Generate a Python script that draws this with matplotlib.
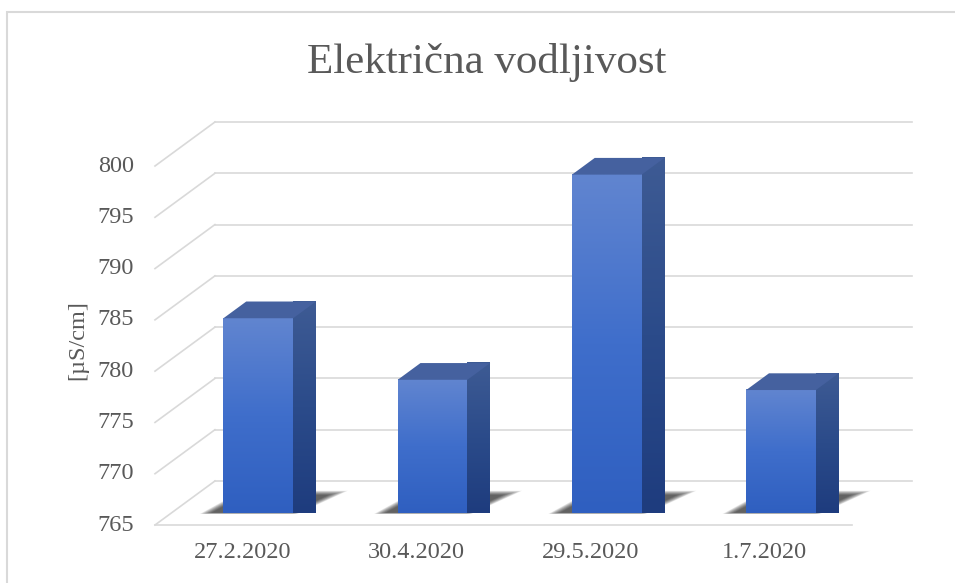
import numpy as np
import matplotlib.pyplot as plt
from matplotlib.patches import Polygon, Rectangle
from matplotlib.colors import LinearSegmentedColormap

# data
dates = ["27.2.2020", "30.4.2020", "29.5.2020", "1.7.2020"]
values = [784, 778, 798, 777]
yticks = [765, 770, 775, 780, 785, 790, 795, 800]
title = "Električna vodljivost"
ylabel = "[µS/cm]"

ymin, ymax = 765, 800
DX, DY = 0.344, 4.29     # full depth offset in data units
f0, f1 = 0.27, 0.65      # bar depth (fraction of floor)
half_w = 0.2

plt.rcParams['font.family'] = ['Liberation Serif', 'DejaVu Serif']
grid_c = '#d9d9d9'
txt_c = '#595959'

fig = plt.figure(figsize=(9.55, 5.83), dpi=100)
W, H = 955, 583
ax = fig.add_axes([155 / W, (H - 525) / H, 697 / W, 359 / H])
ax.set_xlim(-0.5, 3.5)
ax.set_ylim(ymin, ymax)
ax.axis('off')

# chart border
fig.patches.append(Rectangle((7 / W, -0.01), 1.0, (H - 12) / H + 0.01, transform=fig.transFigure,
                             fill=False, edgecolor='#d9d9d9', lw=1.5))

# gridlines: back wall + left wall slants
for v in yticks:
    ax.plot([-0.5 + DX, 3.5 + DX], [v + DY, v + DY], color=grid_c, lw=1.2, clip_on=False, zorder=1)
    ax.plot([-0.5, -0.5 + DX], [v, v + DY], color=grid_c, lw=1.2, clip_on=False, zorder=1)
ax.plot([-0.5, 3.5], [ymin, ymin], color=grid_c, lw=1.2, clip_on=False, zorder=1)

front_cmap = LinearSegmentedColormap.from_list('front', ['#2f5fc0', '#3f6ecb', '#6185d0'])
side_cmap = LinearSegmentedColormap.from_list('side', ['#1e3c7e', '#2b4b8a', '#3e5b94'])
grad = np.linspace(0, 1, 256).reshape(-1, 1)


def floor_pt(x, d):
    # point on the floor: x at the front plane, depth fraction d
    return (x + d * DX, ymin + d * DY)


for i, v in enumerate(values):
    xl = i - half_w
    xr = i + half_w
    # blurred shadow on the floor, leaning right towards the back
    n = 16
    for k in range(n):
        g = 1 - k / (n - 1)   # 1 = widest/faintest layer
        pts = [floor_pt(xl - 0.07 - 0.06 * g, f0 + 0.01 - 0.03 * g),
               floor_pt(xr - 0.02 + 0.05 * g, f0 + 0.01 - 0.03 * g),
               floor_pt(xr + 0.06 + 0.08 * g, f1 + 0.03 + 0.1 * g),
               floor_pt(xl - 0.02 - 0.05 * g, f1 + 0.03 + 0.1 * g)]
        ax.add_patch(Polygon(pts, closed=True, facecolor='black', edgecolor='none',
                             alpha=0.055, clip_on=False, zorder=2))

    xl += f0 * DX
    xr += f0 * DX
    y0 = ymin + f0 * DY
    y1 = v + f0 * DY
    ddx = (f1 - f0) * DX
    ddy = (f1 - f0) * DY
    # front face
    front = Polygon([(xl, y0), (xr, y0), (xr, y1), (xl, y1)], closed=True,
                    facecolor='none', edgecolor='none', clip_on=False, zorder=4)
    ax.add_patch(front)
    im = ax.imshow(grad, cmap=front_cmap, origin='lower', aspect='auto',
                   extent=[xl, xr, y0, y1], zorder=4, clip_on=False)
    im.set_clip_path(front)
    # side face
    side = Polygon([(xr, y0), (xr + ddx, y0 + ddy), (xr + ddx, y1 + ddy), (xr, y1)], closed=True,
                   facecolor='none', edgecolor='none', clip_on=False, zorder=4)
    ax.add_patch(side)
    im2 = ax.imshow(grad, cmap=side_cmap, origin='lower', aspect='auto',
                    extent=[xr, xr + ddx, y0, y1 + ddy], zorder=4, clip_on=False)
    im2.set_clip_path(side)
    # top face
    top = Polygon([(xl, y1), (xr, y1), (xr + ddx, y1 + ddy), (xl + ddx, y1 + ddy)], closed=True,
                  facecolor='#45619f', edgecolor='none', clip_on=False, zorder=5)
    ax.add_patch(top)

ax.set_xlim(-0.5, 3.5)
ax.set_ylim(ymin, ymax)

# tick labels
for v in yticks:
    ax.text(-0.5 - 0.12, v, str(v), ha='right', va='center', fontsize=17.5, color=txt_c, clip_on=False)
for i, d in enumerate(dates):
    ax.text(i, ymin - 2.7, d, ha='center', va='center', fontsize=17.5, color=txt_c, clip_on=False)

fig.text(78 / W, 1 - 340 / H, ylabel, rotation=90, ha='center', va='center', fontsize=17.5, color=txt_c)
fig.text(487 / W, 1 - 62 / H, title, ha='center', va='center', fontsize=31, color=txt_c)

fig.savefig('out.png', dpi=100)
